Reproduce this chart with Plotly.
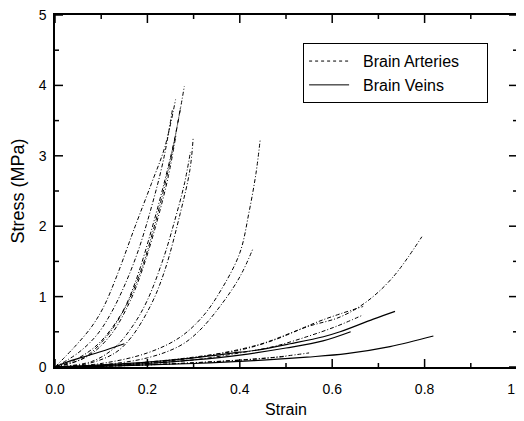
import plotly.graph_objects as go

# ---- Data (strain, stress in MPa) ----
artery_strain = [
    [0, 0.043, 0.079, 0.105, 0.133, 0.173, 0.209, 0.238, 0.261],
    [0, 0.05, 0.09, 0.12, 0.15, 0.18, 0.21, 0.235, 0.254],
    [0, 0.043, 0.094, 0.144, 0.173, 0.209, 0.238, 0.26, 0.28],
    [0, 0.06, 0.11, 0.15, 0.185, 0.215, 0.24, 0.258, 0.272],
    [0, 0.07, 0.12, 0.16, 0.19, 0.22, 0.245, 0.262],
    [0, 0.072, 0.13, 0.166, 0.209, 0.238, 0.271, 0.292, 0.299],
    [0, 0.08, 0.13, 0.17, 0.2, 0.235, 0.26, 0.28, 0.293],
    [0, 0.1, 0.2, 0.27, 0.32, 0.36, 0.4, 0.42, 0.435, 0.444],
    [0, 0.1, 0.2, 0.27, 0.31, 0.357, 0.4, 0.429],
    [0, 0.1, 0.2, 0.3, 0.4, 0.473, 0.545, 0.617, 0.675, 0.732, 0.794],
    [0, 0.1, 0.2, 0.3, 0.437, 0.509, 0.58, 0.667],
    [0, 0.1, 0.2, 0.3, 0.4, 0.473, 0.545, 0.61, 0.667],
    [0, 0.1, 0.2, 0.3, 0.4, 0.5],
    [0, 0.15, 0.3, 0.45, 0.55],
]
artery_stress = [
    [0, 0.29, 0.57, 0.85, 1.28, 1.99, 2.61, 3.13, 3.8],
    [0, 0.2, 0.45, 0.75, 1.15, 1.65, 2.3, 2.95, 3.65],
    [0, 0.1, 0.33, 0.76, 1.19, 1.95, 2.66, 3.27, 3.99],
    [0, 0.12, 0.42, 0.82, 1.35, 2.0, 2.65, 3.2, 3.7],
    [0, 0.15, 0.45, 0.9, 1.4, 2.05, 2.7, 3.3],
    [0, 0.05, 0.2, 0.43, 0.9, 1.38, 2.18, 2.8, 3.25],
    [0, 0.08, 0.28, 0.6, 0.95, 1.55, 2.1, 2.6, 3.05],
    [0, 0.05, 0.2, 0.42, 0.72, 1.1, 1.62, 2.2, 2.75, 3.22],
    [0, 0.03, 0.13, 0.3, 0.5, 0.86, 1.28, 1.69],
    [0, 0.02, 0.07, 0.14, 0.24, 0.38, 0.57, 0.71, 0.93, 1.28, 1.85],
    [0, 0.02, 0.06, 0.13, 0.31, 0.48, 0.67, 0.86],
    [0, 0.02, 0.05, 0.1, 0.2, 0.29, 0.43, 0.58, 0.74],
    [0, 0.01, 0.03, 0.06, 0.1, 0.15],
    [0, 0.02, 0.06, 0.12, 0.2],
]
vein_strain = [
    [0, 0.1, 0.2, 0.3, 0.4, 0.437, 0.509, 0.581, 0.617, 0.689, 0.736],
    [0, 0.1, 0.2, 0.3, 0.4, 0.458, 0.545, 0.631, 0.725, 0.819],
    [0, 0.1, 0.2, 0.3, 0.4, 0.5, 0.58, 0.64],
    [0, 0.03, 0.06, 0.1, 0.15],
]
vein_stress = [
    [0, 0.03, 0.07, 0.13, 0.21, 0.24, 0.33, 0.43, 0.5, 0.68, 0.79],
    [0, 0.01, 0.03, 0.05, 0.08, 0.1, 0.14, 0.19, 0.29, 0.44],
    [0, 0.02, 0.05, 0.1, 0.17, 0.27, 0.37, 0.5],
    [0, 0.08, 0.14, 0.22, 0.33],
]
series_names = ["Brain Arteries", "Brain Veins"]
x_major_ticks = [0.0, 0.2, 0.4, 0.6, 0.8, 1.0]
x_minor_ticks = [0.1, 0.3, 0.5, 0.7, 0.9]
y_major_ticks = [0, 1, 2, 3, 4, 5]
y_minor_ticks = [0.5, 1.5, 2.5, 3.5, 4.5]

FONT = "Liberation Sans, Arial, sans-serif"
ART_DASH = "4px,2px,1px,2px"
NB = "\u00a0"
X_RANGE, Y_RANGE = (0, 1), (0, 5)
PLOT_W, PLOT_H = 462, 352          # plot-area size in pixels
MAJOR_PX, MINOR_PX = 8, 4          # tick lengths in pixels

fig = go.Figure()
for xs, ys in zip(artery_strain, artery_stress):
    fig.add_trace(go.Scatter(x=xs, y=ys, mode="lines", showlegend=False,
                             line=dict(color="black", width=1, dash=ART_DASH, shape="spline")))
for xs, ys in zip(vein_strain, vein_stress):
    fig.add_trace(go.Scatter(x=xs, y=ys, mode="lines", showlegend=False,
                             line=dict(color="black", width=1.2, shape="spline")))

# inside tick marks on all four frame sides, drawn as one line trace
ux = (X_RANGE[1] - X_RANGE[0]) / PLOT_W   # strain per pixel
uy = (Y_RANGE[1] - Y_RANGE[0]) / PLOT_H   # stress per pixel
tx, ty = [], []
for vals, ln in ((x_major_ticks, MAJOR_PX), (x_minor_ticks, MINOR_PX)):
    for v in vals:
        tx += [v, v, None, v, v, None]
        ty += [Y_RANGE[0], Y_RANGE[0] + ln * uy, None, Y_RANGE[1], Y_RANGE[1] - ln * uy, None]
for vals, ln in ((y_major_ticks, MAJOR_PX), (y_minor_ticks, MINOR_PX)):
    for v in vals:
        tx += [X_RANGE[0], X_RANGE[0] + ln * ux, None, X_RANGE[1], X_RANGE[1] - ln * ux, None]
        ty += [v, v, None, v, v, None]
fig.add_trace(go.Scatter(x=tx, y=ty, mode="lines", showlegend=False, hoverinfo="skip",
                         line=dict(color="black", width=1.5), cliponaxis=False))

# legend entries
fig.add_trace(go.Scatter(x=[None], y=[None], mode="lines",
                         name=NB * 2 + series_names[0] + NB * 5,
                         line=dict(color="black", width=1, dash="dot")))
fig.add_trace(go.Scatter(x=[None], y=[None], mode="lines",
                         name=NB * 2 + series_names[1],
                         line=dict(color="black", width=1)))

# page body has an 8px default margin: figure is sized to fit the 524x421 window
fig.update_layout(
    width=516, height=413,
    margin=dict(l=47, r=7, t=7, b=54, autoexpand=False),
    paper_bgcolor="white", plot_bgcolor="white",
    font=dict(family=FONT, color="black"),
    legend=dict(x=0.537, y=0.92, xanchor="left", yanchor="top",
                bordercolor="black", borderwidth=1, bgcolor="white",
                font=dict(family=FONT, size=16, color="black"),
                tracegroupgap=0, itemwidth=40),
)
fig.update_xaxes(range=list(X_RANGE), tickvals=x_major_ticks, tickformat=".1f",
                 showline=True, linecolor="black", linewidth=1.5, mirror=True,
                 ticks="", showgrid=False, zeroline=False, automargin=False,
                 ticklabeloverflow="allow", ticklabelstandoff=8,
                 tickfont=dict(family=FONT, size=14, color="black"),
                 title=dict(text="Strain", font=dict(size=16), standoff=8))
fig.update_yaxes(range=list(Y_RANGE), tickvals=y_major_ticks,
                 showline=True, linecolor="black", linewidth=1.5, mirror=True,
                 ticks="", showgrid=False, zeroline=False, automargin=False,
                 ticklabeloverflow="allow", ticklabelstandoff=4,
                 tickfont=dict(family=FONT, size=14, color="black"),
                 title=dict(text="Stress (MPa)", font=dict(size=18), standoff=12))

fig.write_html("out.html")
